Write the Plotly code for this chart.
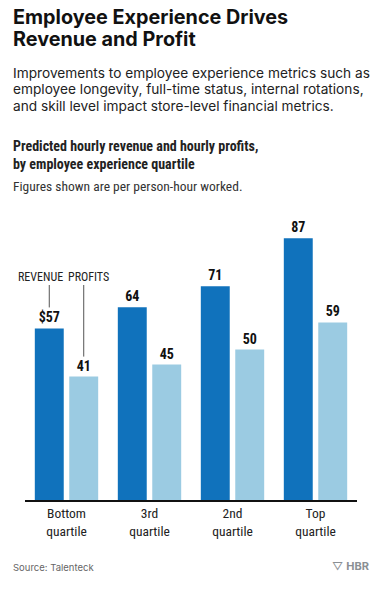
import plotly.graph_objects as go

categories = ["Bottom<br>quartile", "3rd<br>quartile", "2nd<br>quartile", "Top<br>quartile"]
revenue = [57, 64, 71, 87]
profits = [41, 45, 50, 59]
revenue_labels = ["$57", "64", "71", "87"]
profit_labels = ["41", "45", "50", "59"]

W, H = 384, 592
L, R, T, B = 25, 27, 199, 92
PW, PH = W - L - R, H - T - B
YMAX = 100

def xp(px):
    return (px - L) / PW

def yp(py):
    return (T + PH - py) / PH

COND = "Liberation Sans Narrow, Roboto Condensed, Roboto, sans-serif"
MAIN = "Inter, Liberation Sans, sans-serif"
BLUE = "#1072BC"
LIGHT = "#9BCBE2"

bargap = 0.17
groupgap = 0.16
slot = (1 - bargap) / 2

fig = go.Figure()
fig.add_bar(x=categories, y=revenue, name="REVENUE", marker=dict(color=BLUE, line=dict(width=0)),
            text=revenue_labels, textposition="outside", cliponaxis=False,
            textfont=dict(family=COND, size=14, color="#111", weight=700))
fig.add_bar(x=categories, y=profits, name="PROFITS", marker=dict(color=LIGHT, line=dict(width=0)),
            text=profit_labels, textposition="outside", cliponaxis=False,
            textfont=dict(family=COND, size=14, color="#111", weight=700))

annotations = []
def txt(text, x, y, size, family, color="#111", weight=400, xanchor="left"):
    annotations.append(dict(text=text, x=xp(x), y=yp(y), xref="paper", yref="paper",
                            xanchor=xanchor, yanchor="middle", showarrow=False,
                            font=dict(size=size, family=family, color=color, weight=weight)))

txt("Employee Experience Drives", 11, 17, 19.8, MAIN, "#111", 700)
txt("Revenue and Profit", 11, 39, 19.8, MAIN, "#111", 700)
txt("Improvements to employee experience metrics such as", 11, 73, 13.7, MAIN, "#222")
txt("employee longevity, full-time status, internal rotations,", 11, 89.5, 13.7, MAIN, "#222")
txt("and skill level impact store-level financial metrics.", 11, 106, 13.7, MAIN, "#222")
txt("Predicted hourly revenue and hourly profits,", 11, 146, 14, COND, "#222", 700)
txt("by employee experience quartile", 11, 163.5, 14, COND, "#222", 700)
txt("Figures shown are per person-hour worked.", 11, 186, 13.5, COND, "#333")
txt("Source: Talenteck", 11, 567, 9.5, MAIN, "#666")
txt("▽ <b>HBR</b>", 371, 566, 11, MAIN, "#8a8f94", 400, "right")

# x pixel centre of the first group's bars
catw = PW / len(categories)
rev0_px = L + catw * (0.5 - slot / 2)
pro0_px = L + catw * (0.5 + slot / 2)

def ypx(v):
    return T + PH - v * PH / YMAX

annotations.append(dict(text="REVENUE", x=xp(40), y=yp(277), xref="paper", yref="paper",
                        xanchor="center", yanchor="middle", showarrow=False,
                        font=dict(size=12, family=COND, color="#222")))
annotations.append(dict(text="PROFITS", x=xp(88.5), y=yp(277), xref="paper", yref="paper",
                        xanchor="center", yanchor="middle", showarrow=False,
                        font=dict(size=12, family=COND, color="#222")))

shapes = [
    dict(type="line", xref="paper", yref="paper", x0=xp(rev0_px), x1=xp(rev0_px),
         y0=yp(ypx(revenue[0]) - 21), y1=yp(285), line=dict(color="#555", width=1)),
    dict(type="line", xref="paper", yref="paper", x0=xp(pro0_px), x1=xp(pro0_px),
         y0=yp(ypx(profits[0]) - 20), y1=yp(285), line=dict(color="#555", width=1)),
]

fig.update_layout(
    width=W, height=H, margin=dict(l=L, r=R, t=T, b=B, pad=0),
    paper_bgcolor="white", plot_bgcolor="white",
    barmode="group", bargap=bargap, bargroupgap=groupgap,
    showlegend=False,
    annotations=annotations, shapes=shapes,
    xaxis=dict(showline=True, linecolor="#111", linewidth=1.5, showgrid=False, ticks="",
               range=[-0.5, 3.5],
               tickfont=dict(family=COND, size=13.5, color="#222"), ticklabelstandoff=0, fixedrange=True),
    yaxis=dict(range=[0, YMAX], visible=False, showgrid=False, fixedrange=True),
)
fig.write_html("out.html", config={"displayModeBar": False},
               post_script="document.body.style.margin='0';document.body.style.overflow='hidden';")
